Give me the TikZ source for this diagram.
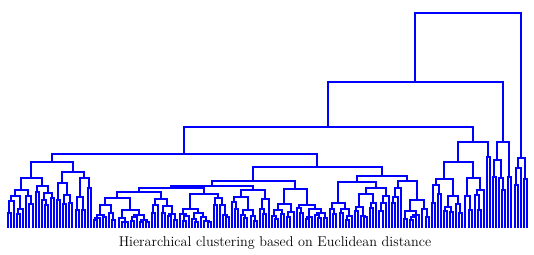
\documentclass[tikz,border=0pt]{standalone}
\newcount\leafc
\gdef\allpath{}
\newcommand\dLeaf{\global\advance\leafc by 1\relax
  \pgfmathtruncatemacro\tmpx{round(8+(\the\leafc-1)*3.07)}\xdef\rx{\tmpx}\xdef\ry{228}}
\newcommand\dNode[3]{\begingroup
  #2\let\lx\rx\let\ly\ry
  #3\let\rrx\rx\let\rry\ry
  \pgfmathtruncatemacro\hh{floor(#1)}%
  \xdef\allpath{\allpath (\lx,\ly) |- (\rrx,\hh) -- (\rrx,\rry)}%
  \pgfmathtruncatemacro\tmpx{floor((\lx+\rrx)/2)}\xdef\rx{\tmpx}\xdef\ry{\hh}\endgroup}
\newcommand\dSplit[2]{%
  \pgfmathtruncatemacro\na{max(1,min(#1-1,round(#1*(0.3+0.4*rnd))))}%
  \pgfmathtruncatemacro\nb{#1-\na}%
  \pgfmathsetmacro\ha{min(#2+(228-#2)*(0.12+0.35*rnd),222)}%
  \pgfmathsetmacro\hb{min(#2+(228-#2)*(0.12+0.35*rnd),222)}%
  \edef\dnext{\noexpand\dNode{#2}{\noexpand\dRnd{\na}{\ha}}{\noexpand\dRnd{\nb}{\hb}}}\dnext}
\newcommand\dRnd[2]{\ifnum#1=1 \dLeaf\else\ifnum#1=2 \dNode{#2}{\dLeaf}{\dLeaf}\else\dSplit{#1}{#2}\fi\fi}
\begin{document}
\begin{tikzpicture}[x=1pt,y=-1pt,dl/.style={draw=blue,line width=1.7pt}]
\useasboundingbox (0,0) rectangle (534,254);
\pgfmathsetseed{7}
\dNode{13}{%A
 \dNode{82}{%C
  \dNode{127}{%E
   \dNode{154}{%G
    \dNode{162}{\dNode{178}{\dRnd{9}{190}}{\dRnd{7}{186}}}{\dNode{172}{\dRnd{6}{183}}{\dRnd{6}{178}}}%
   }{%H
    \dNode{167}{%HL
     \dNode{181}{\dNode{186}{\dNode{188}{\dRnd{28}{192}}{\dRnd{17}{194}}}{\dRnd{13}{190}}}{\dRnd{19}{189}}%
    }{%HR
     \dNode{176}{\dRnd{20}{182}}{\dRnd{13}{181}}%
    }%
   }%
  }{%F
   \dNode{142}{\dNode{162}{\dRnd{11}{179}}{\dRnd{7}{178}}}{\dNode{157}{\dLeaf}{\dLeaf}}%
  }%
 }{%D
  \dNode{142}{\dNode{160}{\dNode{177}{\dLeaf}{\dLeaf}}{\dNode{178}{\dLeaf}{\dNode{190}{\dLeaf}{\dLeaf}}}}{\dNode{177}{\dLeaf}{\dLeaf}}%
 }%
}{%B
 \dNode{158}{\dNode{168}{\dNode{185}{\dLeaf}{\dLeaf}}{\dLeaf}}{\dNode{179}{\dLeaf}{\dLeaf}}%
}
\draw[dl,line join=miter] \allpath;
\node[text=black,font=\fontsize{14.2}{16}\selectfont,inner sep=0pt] (cap) at (275,243) {Hierarchical clustering based on Euclidean distance};
\end{tikzpicture}
\end{document}
